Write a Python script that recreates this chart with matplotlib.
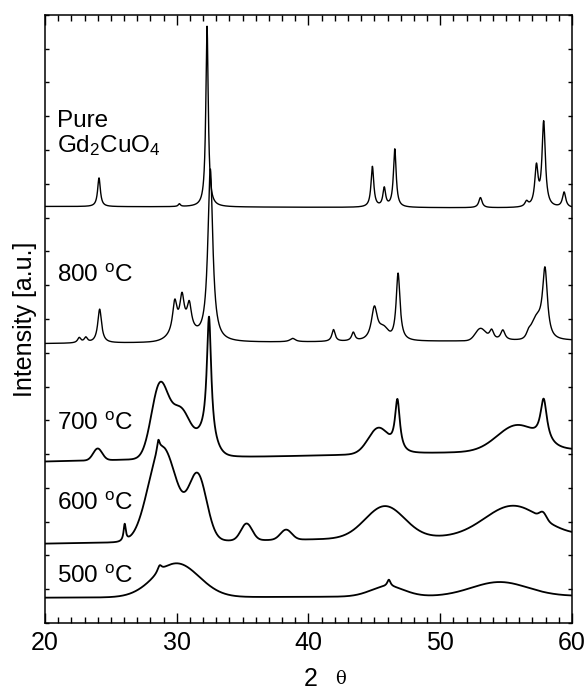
import numpy as np
import matplotlib.pyplot as plt
from matplotlib.ticker import MultipleLocator

plt.rcParams['font.family'] = ['Liberation Sans', 'DejaVu Sans']
plt.rcParams['mathtext.fontset'] = 'custom'
plt.rcParams['mathtext.rm'] = 'Liberation Sans'
plt.rcParams['mathtext.it'] = 'Liberation Sans'

# patterns: baseline at 20 and 60 deg,
# sharp reflections (centre, height, fwhm) and broad humps (centre, height, fwhm)
names = ['Pure', '800', '700', '600', '500']
labels = ['Pure\nGd$_2$CuO$_4$', '800 $^\\mathrm{o}$C', '700 $^\\mathrm{o}$C',
          '600 $^\\mathrm{o}$C', '500 $^\\mathrm{o}$C']
label_y = [13.93, 10.09, 5.71, 3.34, 1.18]

base_left = [12.33, 8.27, 4.78, 2.35, 0.75]
base_right = [12.28, 8.36, 5.12, 2.6, 0.80]

peaks = {
    'Pure': [(24.1, 0.85, 0.25), (30.2, 0.08, 0.2), (32.3, 5.35, 0.22),
             (44.85, 1.2, 0.25), (45.75, 0.55, 0.25), (46.55, 1.72, 0.25),
             (53.05, 0.3, 0.3), (56.55, 0.15, 0.3), (57.3, 1.15, 0.3),
             (57.85, 2.5, 0.3), (59.4, 0.45, 0.3)],
    '800': [(22.6, 0.15, 0.3), (23.1, 0.15, 0.3), (24.15, 1.0, 0.35),
            (29.85, 0.9, 0.4), (30.4, 0.95, 0.4), (30.95, 0.75, 0.4),
            (32.55, 5.1, 0.45), (38.8, 0.1, 0.5), (41.9, 0.35, 0.3),
            (43.4, 0.25, 0.3), (45.0, 1.0, 0.55), (46.8, 2.0, 0.35),
            (53.9, 0.3, 0.4), (54.75, 0.3, 0.4), (56.7, 0.15, 0.4),
            (57.95, 2.05, 0.45)],
    '700': [(32.45, 3.6, 0.4), (46.75, 1.5, 0.45), (57.85, 1.25, 0.6)],
    '600': [(26.05, 0.5, 0.2), (28.6, 0.35, 0.25)],
    '500': [(28.7, 0.2, 0.4), (46.1, 0.2, 0.3)],
}
humps = {
    'Pure': [],
    '800': [(30.5, 0.3, 2.0), (45.7, 0.3, 0.8), (53.05, 0.35, 0.9),
            (57.3, 0.55, 0.9)],
    '700': [(24.0, 0.35, 0.8), (28.7, 2.1, 1.5), (30.3, 1.4, 1.8),
            (32.2, 0.6, 1.5), (45.3, 0.75, 1.8), (55.8, 0.75, 3.5)],
    '600': [(28.2, 0.6, 2.0), (29.1, 2.4, 2.4), (31.6, 1.9, 1.6),
            (35.3, 0.5, 1.0), (38.3, 0.3, 1.0), (45.8, 0.95, 3.5),
            (55.5, 0.9, 5.0), (57.8, 0.2, 0.6)],
    '500': [(30.0, 1.0, 4.0), (46.0, 0.3, 3.0), (54.5, 0.42, 5.0)],
}

tt = np.linspace(20, 60, 4001)


def pattern(i, name):
    y = base_left[i] + (base_right[i] - base_left[i]) * (tt - 20) / 40
    for c, h, w in peaks[name]:
        y = y + h / (1 + ((tt - c) / (w / 2)) ** 2)
    for c, h, w in humps[name]:
        s = w / 2.355
        y = y + h * np.exp(-0.5 * ((tt - c) / s) ** 2)
    return y


fig = plt.figure(figsize=(5.88, 6.91), dpi=100)
ax = fig.add_axes([0.0765, 0.0984, 0.8963, 0.88])

for i, name in enumerate(names):
    lw = 1.0 if i < 2 else 1.3
    ax.plot(tt, pattern(i, name), color='black', lw=lw)
    ax.text(20.9, label_y[i], labels[i], fontsize=17.5, va='baseline',
            ha='left', linespacing=1.05)

ax.set_xlim(20, 60)
ax.set_ylim(0, 18)
ax.xaxis.set_major_locator(MultipleLocator(10))
ax.xaxis.set_minor_locator(MultipleLocator(1))
ax.yaxis.set_major_locator(MultipleLocator(1))
ax.tick_params(axis='x', which='major', direction='in', length=7, width=1,
               top=True, labelsize=18, pad=6)
ax.tick_params(axis='x', which='minor', direction='in', length=4, width=1,
               top=True)
ax.tick_params(axis='y', which='major', direction='in', length=3, width=1,
               right=True, labelleft=False)
for sp in ax.spines.values():
    sp.set_linewidth(1.1)

ax.set_ylabel('Intensity [a.u.]', fontsize=18, labelpad=6)
fig.text(311 / 588, 1 - 686 / 691, '2', fontsize=18, ha='center', va='baseline')
fig.text(340 / 588, 1 - 684 / 691, '\u03b8', fontsize=13, ha='center',
         va='baseline', family='DejaVu Serif')

fig.savefig('out.png', dpi=100)
